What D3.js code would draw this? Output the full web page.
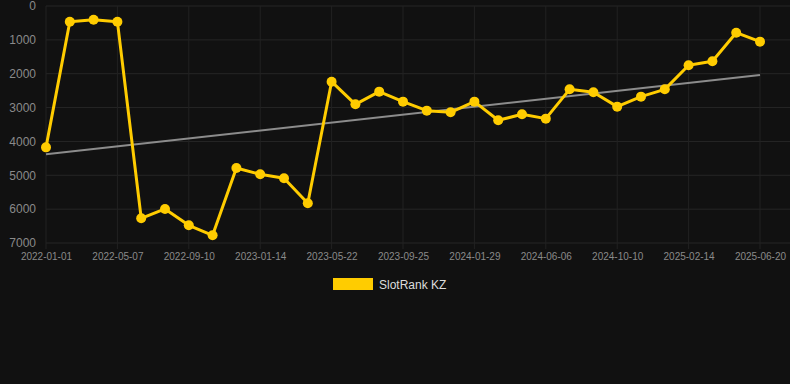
<!DOCTYPE html>
<html><head><meta charset="utf-8">
<script src="https://cdn.jsdelivr.net/npm/d3@7"></script>
<style>html,body{margin:0;padding:0;background:#111111;}svg{display:block;}</style>
</head><body>
<svg id="chart" width="790" height="384"></svg>
<script>
const dates = ["2022-01-01","2022-02-12","2022-03-26","2022-05-07","2022-06-18","2022-07-30","2022-09-10","2022-10-22","2022-12-03","2023-01-14","2023-02-26","2023-04-09","2023-05-22","2023-07-03","2023-08-14","2023-09-25","2023-11-06","2023-12-18","2024-01-29","2024-03-11","2024-04-24","2024-06-06","2024-07-18","2024-08-29","2024-10-10","2024-11-21","2025-01-03","2025-02-14","2025-03-28","2025-05-09","2025-06-20"];
const ranks = [4175,463,404,463,6270,5995,6478,6773,4784,4971,5089,5828,2235,2904,2530,2825,3091,3140,2825,3376,3199,3327,2461,2550,2973,2677,2461,1752,1634,788,1053];
const yTicks = [0,1000,2000,3000,4000,5000,6000,7000];
const seriesName = "SlotRank KZ";

const svg = d3.select("#chart");
const pLeft = 46, pRight = 760, pTop = 6, pBottom = 243;
const x = d3.scalePoint().domain(dates).range([pLeft, pRight]);
const y = d3.scaleLinear().domain([0, 7000]).range([pTop, pBottom]);
const tickDates = dates.filter((d, i) => i % 3 === 0);

// grid
svg.append("g").selectAll("line").data(yTicks).join("line")
  .attr("x1", pLeft).attr("x2", 790).attr("y1", d => y(d)).attr("y2", d => y(d))
  .attr("stroke", "#262626").attr("stroke-width", 1);
svg.append("g").selectAll("line").data(tickDates).join("line")
  .attr("x1", d => x(d)).attr("x2", d => x(d)).attr("y1", pTop).attr("y2", pBottom + 6)
  .attr("stroke", "#222222").attr("stroke-width", 1);

// y axis
const ya = svg.append("g").attr("transform", `translate(${pLeft - 10},0)`)
  .call(d3.axisLeft(y).tickValues(yTicks).tickSize(0).tickPadding(0).tickFormat(d3.format("d")));
ya.select(".domain").remove();
ya.selectAll("text").attr("fill", "#8a8a8a").style("font-family", "Arial, 'Liberation Sans', sans-serif").style("font-size", "12px");

// x axis
const xa = svg.append("g").attr("transform", `translate(0,${pBottom + 10})`)
  .call(d3.axisBottom(x).tickValues(tickDates).tickSize(0).tickPadding(0));
xa.select(".domain").remove();
xa.selectAll("text").attr("fill", "#8a8a8a").attr("dy", "0.71em").style("font-family", "Arial, 'Liberation Sans', sans-serif").style("font-size", "10px");

// trend line (least squares)
const n = ranks.length;
const idx = d3.range(n);
const mx = d3.mean(idx), my = d3.mean(ranks);
const slope = d3.sum(idx, i => (i - mx) * (ranks[i] - my)) / d3.sum(idx, i => (i - mx) ** 2);
const icpt = my - slope * mx;
svg.append("line")
  .attr("x1", x(dates[0])).attr("y1", y(icpt))
  .attr("x2", x(dates[n - 1])).attr("y2", y(icpt + slope * (n - 1)))
  .attr("stroke", "#8c8c8c").attr("stroke-width", 2);

// series line
const line = d3.line().x((d, i) => x(dates[i])).y(d => y(d));
svg.append("path").datum(ranks).attr("d", line)
  .attr("fill", "none").attr("stroke", "#ffcc00").attr("stroke-width", 3).attr("stroke-linejoin", "round");
svg.append("g").selectAll("circle").data(ranks).join("circle")
  .attr("cx", (d, i) => x(dates[i])).attr("cy", d => y(d)).attr("r", 5)
  .attr("fill", "#ffcc00");

// legend
const lg = svg.append("g");
lg.append("rect").attr("x", 333).attr("y", 278).attr("width", 40).attr("height", 12).attr("fill", "#ffcc00");
lg.append("text").attr("x", 379).attr("y", 289).text(seriesName)
  .attr("fill", "#dddddd").style("font-family", "Arial, 'Liberation Sans', sans-serif").style("font-size", "12px");
</script>
</body></html>
